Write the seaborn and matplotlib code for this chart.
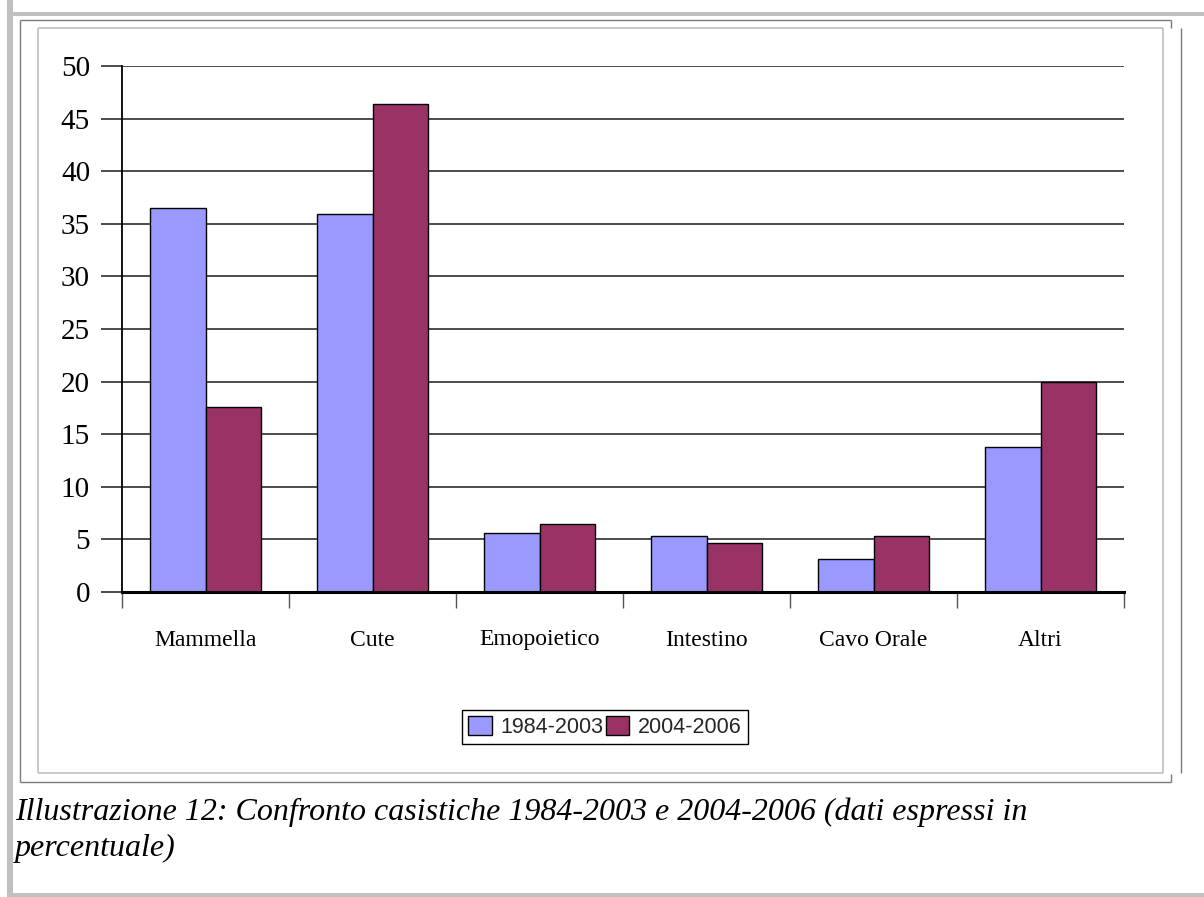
import matplotlib
matplotlib.use("Agg")
import matplotlib.pyplot as plt
from matplotlib.lines import Line2D
from matplotlib.patches import Rectangle
from matplotlib.ticker import FixedLocator, MultipleLocator
import seaborn as sns
import pandas as pd

# Data: percentage of cases per site, two periods
categories = ["Mammella", "Cute", "Emopoietico", "Intestino", "Cavo Orale", "Altri"]
periods = ["1984-2003", "2004-2006"]
values_1984_2003 = [36.5, 35.9, 5.6, 5.3, 3.1, 13.8]
values_2004_2006 = [17.6, 46.4, 6.5, 4.7, 5.3, 20.0]
colors = ["#9999FF", "#993366"]
caption_lines = ["Illustrazione 12: Confronto casistiche 1984-2003 e 2004-2006 (dati espressi in",
                 "percentuale)"]

df = pd.DataFrame({
    "Sede": categories * 2,
    "Periodo": [periods[0]] * len(categories) + [periods[1]] * len(categories),
    "Percentuale": values_1984_2003 + values_2004_2006,
})

sns.set_style("white")
W, H = 1204, 897
fig = plt.figure(figsize=(W / 100, H / 100), dpi=100)


def fx(x):
    return x / W


def fy(y):
    return 1 - y / H


def hline(y, x0, x1, color, lw):
    fig.add_artist(Line2D([fx(x0), fx(x1)], [fy(y), fy(y)], transform=fig.transFigure,
                          color=color, lw=lw, solid_capstyle="butt"))


def vline(x, y0, y1, color, lw):
    fig.add_artist(Line2D([fx(x), fx(x)], [fy(y0), fy(y1)], transform=fig.transFigure,
                          color=color, lw=lw, solid_capstyle="butt"))


# Page borders and frames around the chart
fig.add_artist(Rectangle((fx(7), fy(897)), fx(6), 1, transform=fig.transFigure,
                         facecolor="#c0c0c0", edgecolor="none"))
fig.add_artist(Rectangle((fx(7), fy(16)), 1, 4 / H, transform=fig.transFigure,
                         facecolor="#c0c0c0", edgecolor="none"))
fig.add_artist(Rectangle((fx(7), fy(897)), 1, 4 / H, transform=fig.transFigure,
                         facecolor="#c0c0c0", edgecolor="none"))
frame = "#7a7a7a"
hline(20, 20, 1171, frame, 1.0)
hline(782, 20, 1171, frame, 1.0)
vline(20, 20, 782, frame, 1.0)
vline(1171, 20, 28, frame, 1.0)
vline(1171, 774, 782, frame, 1.0)
vline(1181, 28, 773, frame, 1.0)
inner = "#c4c4c4"
hline(28, 38, 1163, inner, 1.3)
hline(773, 38, 1163, inner, 1.3)
vline(38, 28, 773, inner, 1.3)
vline(1163, 28, 773, inner, 1.3)

ax = fig.add_axes([fx(122), fy(592), fx(1124 - 122), (592 - 66) / H])

sns.barplot(data=df, x="Sede", y="Percentuale", hue="Periodo", order=categories,
            hue_order=periods, palette=colors, width=0.67, saturation=1,
            edgecolor="black", linewidth=1.0, ax=ax, legend=True)

ax.set_ylim(0, 50)
ax.set_xlim(-0.5, len(categories) - 0.5)
ax.set_xlabel("")
ax.set_ylabel("")
ax.set_axisbelow(True)
ax.yaxis.set_major_locator(MultipleLocator(5))
ax.yaxis.grid(True, color="#2e2e2e", lw=1.2)
ax.xaxis.grid(False)

for side in ["top", "right"]:
    ax.spines[side].set_visible(False)
ax.spines["left"].set_color("black")
ax.spines["left"].set_linewidth(1.3)
ax.spines["bottom"].set_color("black")
ax.spines["bottom"].set_linewidth(2.2)

serif = ["Liberation Serif", "DejaVu Serif"]
ax.tick_params(axis="y", which="major", left=True, length=15, width=1.2, color="#2e2e2e",
               pad=8, labelsize=21, labelcolor="black")
for t in ax.get_yticklabels():
    t.set_fontfamily(serif)

ax.xaxis.set_minor_locator(FixedLocator([i - 0.5 for i in range(len(categories) + 1)]))
ax.tick_params(axis="x", which="minor", bottom=True, length=11.5, width=1.0, color="#555555")
ax.tick_params(axis="x", which="major", bottom=True, length=0, pad=27, labelsize=17,
               labelcolor="black")
for t in ax.get_xticklabels():
    t.set_fontfamily(serif)

handles, labels = ax.get_legend_handles_labels()
ax.get_legend().remove()
leg = fig.legend(handles, labels, loc="center", bbox_to_anchor=(fx(605), fy(727)), ncol=2,
                 frameon=True, fancybox=False, edgecolor="black", framealpha=1,
                 prop={"family": "Liberation Sans", "size": 15.5}, handlelength=1.1,
                 handleheight=1.0, handletextpad=0.4, columnspacing=0.1,
                 borderpad=0.3, borderaxespad=0)
leg.get_frame().set_linewidth(1.0)

for i, line in enumerate(caption_lines):
    fig.text(fx(15), fy(820 + 36 * i), line, ha="left", va="baseline", fontsize=23,
             family=serif, style="italic", color="black")

fig.savefig("out.png", dpi=100)
